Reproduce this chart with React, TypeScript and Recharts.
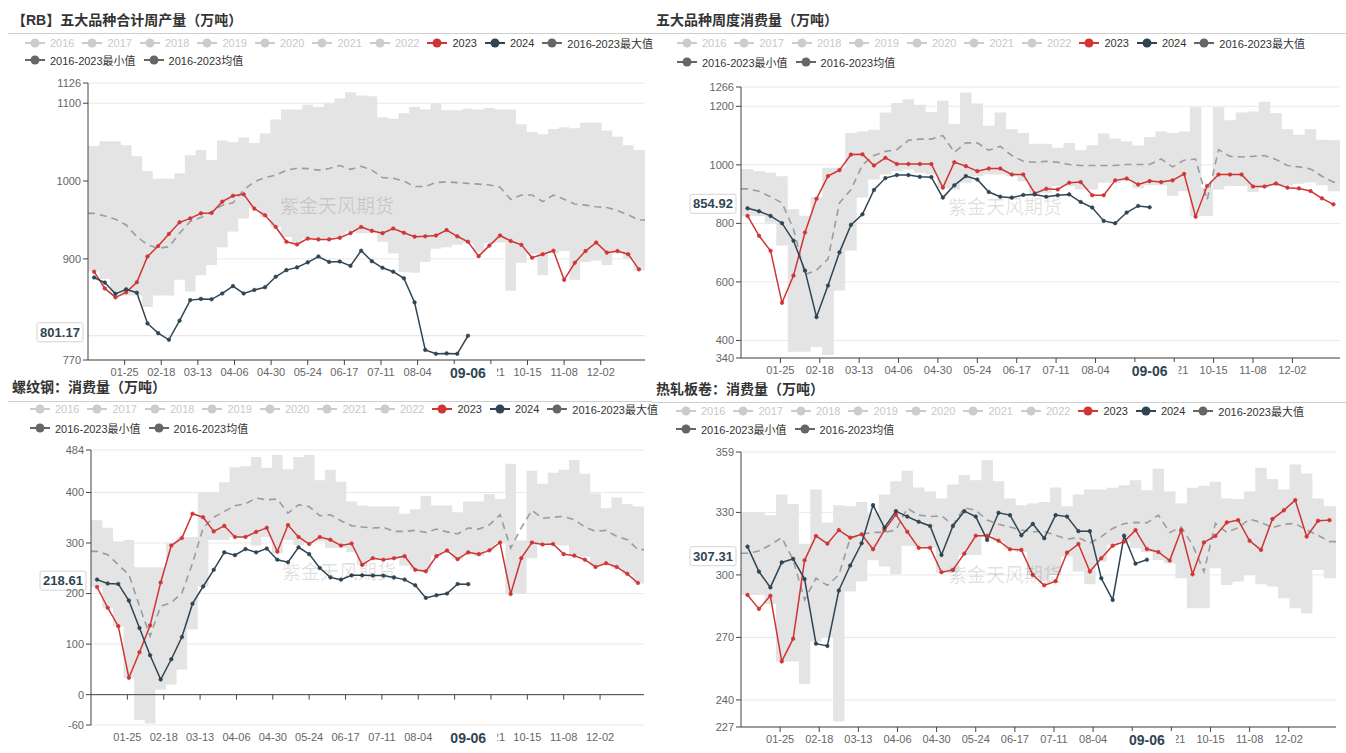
import React from "react";
import {
  ComposedChart,
  Area,
  Line,
  XAxis,
  YAxis,
  CartesianGrid,
  ReferenceLine,
} from "recharts";

// weekly dates (month-day), the last 2024 point is 09-06
const WEEKS = [
  "01-05", "01-12", "01-19", "01-26", "02-02", "02-09", "02-16", "02-23", "03-01", "03-08",
  "03-15", "03-22", "03-29", "04-05", "04-12", "04-19", "04-26", "05-03", "05-10", "05-17",
  "05-24", "05-31", "06-07", "06-14", "06-21", "06-28", "07-05", "07-12", "07-19", "07-26",
  "08-02", "08-09", "08-16", "08-23", "08-30", "09-06", "09-13", "09-20", "09-27", "10-04",
  "10-11", "10-18", "10-25", "11-01", "11-08", "11-15", "11-22", "11-29", "12-06", "12-13",
  "12-20", "12-27",
];
const TICK_DATES = [
  "01-25", "02-18", "03-13", "04-06", "04-30", "05-24", "06-17",
  "07-11", "08-04", "08-28", "09-21", "10-15", "11-08", "12-02",
];
const LATEST = "09-06";

const LEGEND_YEARS = ["2016", "2017", "2018", "2019", "2020", "2021", "2022"];
const LEGEND_STATS = ["2016-2023最大值", "2016-2023最小值", "2016-2023均值"];

// 【RB】五大品种合计周产量
const PROD_2023 = [883.5, 862, 850.5, 857, 870, 903, 916.5, 932, 947, 952, 958.5, 959, 973.5, 981, 983, 964.5, 956, 941, 922, 918.5, 926, 925, 925, 927, 933, 941, 936, 933, 939, 933.5, 928.5, 929, 930, 937, 929, 922, 903.5, 917, 930, 923, 918, 901.5, 906, 910.5, 873, 895, 910, 921, 908, 910, 906, 886.5];
const PROD_2024 = [876, 869.5, 855, 861, 856.5, 817, 804.5, 796, 820.5, 847, 848.5, 848, 855.5, 865, 855.5, 860, 863.5, 877, 885.5, 889, 895.5, 903, 896, 896.5, 891, 910.5, 897, 888.5, 883.5, 875, 844, 783, 778, 778.5, 778, 801.17];
const PROD_MAX = [1045, 1051, 1051, 1046, 1032, 1013, 1003, 1003, 1010, 1033, 1040, 1027, 1052, 1050, 1056, 1049, 1061, 1079, 1092, 1092, 1098, 1095, 1100, 1106, 1114, 1110, 1109, 1082, 1080, 1087, 1095, 1092, 1100, 1091, 1091, 1093, 1092, 1094, 1092, 1092, 1073, 1063, 1060, 1067, 1069, 1068, 1075, 1075, 1065, 1057, 1046, 1040];
const PROD_MIN = [884, 874, 855, 853, 853, 838, 853, 853, 873, 858, 879, 892, 915, 935, 952, 965, 954, 941, 928, 920, 926, 924, 925, 928, 935, 933, 933, 922, 907, 883, 882, 896, 913, 915, 918, 920, 909, 920, 921, 859, 895, 906, 879, 907, 910, 873, 896, 898, 892, 907, 900, 885];
const PROD_MEAN = [958.5, 955, 951, 943.5, 928.5, 918, 913.5, 915.5, 933, 948, 953, 960.5, 969, 972, 988.5, 999, 1004.5, 1007.5, 1014, 1016.5, 1016, 1014, 1016, 1020, 1015, 1019, 1014, 1004.5, 1003.5, 1000, 993, 993, 998, 999, 998, 997, 996, 995, 992, 976.5, 982, 982, 973.5, 982, 976.5, 970.5, 969, 967, 966, 962, 956.5, 950];
const PROD_TICKS = [770, 900, 1000, 1100, 1126];

// 五大品种周度消费量
const CONS_2023 = [825.5, 757.5, 706.5, 528.6, 621.5, 769, 884, 961.5, 982, 1035, 1036, 997.7, 1024, 1003, 1003, 1003, 1003, 922, 1009, 995.5, 978.5, 987.5, 987.5, 967, 967, 902.5, 918, 916, 939, 941, 896, 896, 947, 953.5, 933, 944.5, 941, 947, 969, 823, 927.5, 967, 967, 967, 926, 926, 936.5, 922, 919.5, 910.5, 885.5, 865];
const CONS_2024 = [851.6, 841.4, 825.5, 800.6, 740.5, 638.5, 480, 587.5, 701, 795, 831, 914, 954.7, 965, 965, 959, 958, 888, 930, 961.5, 950, 907, 891, 888, 897, 899, 891, 896, 899, 873, 854, 808.5, 800.6, 837, 859.5, 854.92];
const CONS_MAX = [986, 978, 973, 961, 848, 826, 890, 990, 990, 1109, 1114, 1120, 1179, 1211, 1224, 1205, 1181, 1219, 1140, 1247, 1210, 1134, 1179, 1122, 1109, 1072, 1072, 1058, 1075, 1050, 1067, 1107, 1089, 1080, 1066, 1095, 1114, 1109, 1114, 1197, 922, 1197, 1152, 1179, 1182, 1216, 1177, 1122, 1103, 1122, 1086, 1084];
const CONS_MIN = [825, 825, 802, 724, 361, 361, 378, 350, 571, 707, 888, 950, 967, 978, 984, 973, 967, 920, 916, 939, 961, 967, 967, 961, 944, 900, 905, 928, 928, 916, 916, 939, 939, 944, 920, 930, 930, 894, 910, 825, 825, 916, 928, 928, 907, 922, 928, 930, 935, 940, 930, 910];
const CONS_MEAN = [918, 910, 891, 870, 780, 625, 640, 678, 870, 915, 1000, 1032, 1046, 1052, 1084, 1088, 1088, 1100, 1043, 1075, 1075, 1050, 1063, 1032, 1012, 1009, 1012, 1009, 1001, 998, 998, 998, 998, 1001, 1001, 1001, 1020, 993, 1016, 1020, 880, 1052, 1029, 1027, 1029, 1032, 1018, 998, 993, 986, 961, 941];
const CONS_TICKS = [340, 400, 600, 800, 1000, 1200, 1266];

// 螺纹钢：消费量
const RB_2023 = [213, 172, 135.5, 33.5, 84, 137, 222, 295, 310, 358, 351, 323, 334, 312, 312, 322, 330, 283, 335.5, 312, 298, 312, 306.5, 295, 299, 257, 270, 267, 270, 274, 247, 244, 274, 285, 268, 281.5, 278, 285.5, 301, 199, 270, 301, 297, 298, 278, 275, 267, 252.6, 260, 252.6, 239, 221];
const RB_2024 = [227.6, 220, 219, 186, 132, 78, 30, 70, 114, 180, 214, 247, 281.5, 276, 288, 281.5, 289, 267, 262, 291.5, 278, 250.7, 232, 227.6, 236, 236, 235.5, 235.5, 232, 227.6, 216.4, 191.5, 196.7, 200, 219, 218.61];
const RB_MAX = [345, 330, 303, 306, 252, 252, 252, 300, 312, 312, 400, 401, 420, 450, 452, 470, 449, 474, 446, 470, 474, 424, 445, 421, 382, 374, 372, 372, 372, 358, 367, 393, 374, 374, 361, 382, 382, 397, 387, 457, 305, 443, 417, 439, 445, 464, 437, 398, 369, 390, 377, 372];
const RB_MIN = [213, 172, 135, 33, -50, -57, 10, 20, 50, 129, 214, 306, 306, 312, 312, 295, 312, 280, 306, 296, 300, 303, 290, 290, 282, 257, 268, 270, 270, 255, 247, 244, 274, 283, 268, 278, 274, 285, 300, 199, 199, 270, 297, 296, 295, 276, 273, 255, 258, 250, 238, 220];
const RB_MEAN = [283.5, 277, 257, 237.5, 175, 116, 175, 182, 201, 260, 329.6, 351, 362.5, 373.7, 377.6, 389, 385.5, 387, 359, 375.6, 372, 354, 356, 344, 334, 331.6, 329.6, 331, 323, 323, 325, 321, 327.6, 322, 318, 329.6, 327.6, 336, 356, 290, 330, 364.5, 349, 351, 352.6, 346, 331.6, 323, 325, 313, 306.6, 287];
const RB_TICKS = [-60, 0, 100, 200, 300, 400, 484];

// 热轧板卷：消费量
const HC_2023 = [290.4, 283.7, 290, 258.5, 269.4, 307, 318.7, 315, 321.5, 317.9, 319.5, 312.3, 321.5, 329, 320.7, 313, 313, 301.3, 302.4, 310.2, 318.8, 318.8, 316.4, 312.3, 312, 300, 295, 297, 310.7, 314.8, 301.6, 308, 314, 316, 321.5, 312.4, 311, 306.9, 321.5, 300.3, 315.6, 318.7, 325.2, 326.3, 316.4, 312, 326.8, 331, 335.9, 318.4, 326, 326.3];
const HC_2024 = [313.6, 301.6, 294, 306, 307.7, 298, 267, 265.9, 292.5, 304.5, 315.2, 333.5, 322.7, 330.6, 328, 325.5, 323.5, 309.6, 323.5, 330.6, 328, 316.8, 329.8, 328.7, 319, 324.5, 317.6, 328.7, 328, 321, 321, 298.4, 288, 318.8, 305.4, 307.31];
const HC_MAX = [330, 330, 328.7, 338.6, 334, 315, 341, 325, 333.5, 333, 335, 329.5, 338.6, 345, 350, 342, 340, 336.7, 343.4, 348, 345.5, 355, 345, 336.7, 333.5, 334.3, 335, 342, 333, 338.6, 341, 341, 341.8, 343, 345.5, 340.7, 351, 340, 334.3, 341.8, 342.8, 344.7, 336.7, 336.4, 340, 351.4, 346, 341, 353, 348.7, 336.7, 333];
const HC_MIN = [290.4, 290.4, 286, 258.5, 258.5, 247.7, 268, 270, 229.8, 292, 297, 307, 304, 300.3, 314, 313.6, 313, 300.8, 301, 309.6, 309.6, 319, 316, 312.3, 311, 300, 296.8, 300, 308.8, 301.6, 295.5, 306.4, 314.4, 316, 312.8, 311, 307.2, 305.6, 298.4, 284, 284, 303.2, 295.2, 296.8, 300, 295.5, 294.4, 288.8, 284, 281.6, 302.4, 298.4];
const HC_MEAN = [310.4, 311.5, 314.4, 317.9, 307.2, 288, 298.4, 295, 300, 317.6, 319.5, 320.4, 320.4, 321.5, 332, 328.7, 328, 328.4, 324, 332.2, 331, 326.3, 324.3, 323, 321.5, 320.7, 320.9, 319, 317.2, 317.9, 315.2, 318.4, 322.3, 324.6, 325.2, 325, 328.7, 320.4, 323, 314.4, 301.6, 324.7, 320.4, 322.7, 326.8, 325.2, 322.7, 324.3, 324.7, 321.5, 319, 316];
const HC_TICKS = [227, 240, 270, 300, 330, 359];

const RED = "#cf3535";
const NAVY = "#2f4554";
const FONT = '"Liberation Sans", "Noto Sans CJK SC", sans-serif';

const MONTH_LEN = [31, 29, 31, 30, 31, 30, 31, 31, 30, 31, 30, 31];
function dayOfYear(md: string) {
  const [m, d] = md.split("-").map(Number);
  let n = 0;
  for (let i = 0; i < m - 1; i++) n += MONTH_LEN[i];
  return n + d - 1;
}
function dateLabel(day: number) {
  let m = 0;
  let d = day;
  while (d >= MONTH_LEN[m]) {
    d -= MONTH_LEN[m];
    m++;
  }
  return `${String(m + 1).padStart(2, "0")}-${String(d + 1).padStart(2, "0")}`;
}

const LATEST_DAY = dayOfYear(LATEST);
// the latest date goes last so its label is painted over its neighbours
const TICK_DAYS = [...TICK_DATES.map(dayOfYear), LATEST_DAY];

function buildRows(s: any) {
  const rows: any[] = WEEKS.map((w, i) => ({
    day: dayOfYear(w),
    y2023: s.y2023[i],
    y2024: i < s.y2024.length ? s.y2024[i] : null,
    mean: s.mean[i],
    band: [s.min[i], s.max[i]],
  }));
  const n = WEEKS.length - 1;
  rows.unshift({ day: 0, band: [s.min[0], s.max[0]], mean: s.mean[0] });
  rows.push({ day: 365, band: [s.min[n], s.max[n]], mean: s.mean[n] });
  return rows;
}

const PANELS = [
  {
    title: "【RB】五大品种合计周产量（万吨）",
    titleX: 12, titleY: 20, lineY: 33, lineX1: 8, lineX2: 652,
    legX: 25, legY1: 43, legY2: 60, wmX: 280, wmY: 205,
    left: 0, top: 70, width: 660, height: 320, mt: 13, mr: 15, xh: 30,
    series: { y2023: PROD_2023, y2024: PROD_2024, max: PROD_MAX, min: PROD_MIN, mean: PROD_MEAN },
    ticks: PROD_TICKS, cur: 801.17, curLine: true,
  },
  {
    title: "五大品种周度消费量（万吨）",
    titleX: 656, titleY: 20, lineY: 33, lineX1: 652, lineX2: 1346,
    legX: 677, legY1: 43, legY2: 62, wmX: 948, wmY: 206,
    left: 653, top: 70, width: 693, height: 318, mt: 17, mr: 6, xh: 30,
    series: { y2023: CONS_2023, y2024: CONS_2024, max: CONS_MAX, min: CONS_MIN, mean: CONS_MEAN },
    ticks: CONS_TICKS, cur: 854.92, curLine: false,
  },
  {
    title: "螺纹钢：消费量（万吨）",
    titleX: 12, titleY: 387, lineY: 401, lineX1: 8, lineX2: 652,
    legX: 30, legY1: 409, legY2: 428, wmX: 282, wmY: 571,
    left: 3, top: 430, width: 656, height: 321, mt: 20, mr: 15, xh: 26,
    series: { y2023: RB_2023, y2024: RB_2024, max: RB_MAX, min: RB_MIN, mean: RB_MEAN },
    ticks: RB_TICKS, cur: 218.61, curLine: false,
  },
  {
    title: "热轧板卷：消费量（万吨）",
    titleX: 656, titleY: 389, lineY: 402, lineX1: 652, lineX2: 1346,
    legX: 676, legY1: 411, legY2: 429, wmX: 948, wmY: 574,
    left: 653, top: 430, width: 693, height: 321, mt: 22, mr: 10, xh: 24,
    series: { y2023: HC_2023, y2024: HC_2024, max: HC_MAX, min: HC_MIN, mean: HC_MEAN },
    ticks: HC_TICKS, cur: 307.31, curLine: false,
  },
];

function LegendIcon({ color }: { color: string }) {
  return (
    <svg width={20} height={10} style={{ display: "block" }}>
      <line x1={0} y1={5} x2={20} y2={5} stroke={color} strokeWidth={2} />
      <circle cx={10} cy={5} r={4.5} fill={color} />
    </svg>
  );
}

function LegendItem({ name, color, text }: { name: string; color: string; text: string }) {
  return (
    <div style={{ display: "flex", alignItems: "center", marginRight: 8 }}>
      <LegendIcon color={color} />
      <span style={{ marginLeft: 5, color: text, fontSize: 11, whiteSpace: "nowrap" }}>{name}</span>
    </div>
  );
}

function Legend({ x, y1, y2 }: { x: number; y1: number; y2: number }) {
  const row1 = [
    ...LEGEND_YEARS.map((y) => ({ name: y, color: "#cccccc", text: "#c8c8c8" })),
    { name: "2023", color: RED, text: "#333" },
    { name: "2024", color: NAVY, text: "#333" },
    { name: LEGEND_STATS[0], color: "#666", text: "#333" },
  ];
  const row2 = [
    { name: LEGEND_STATS[1], color: "#666", text: "#333" },
    { name: LEGEND_STATS[2], color: "#666", text: "#333" },
  ];
  const rowStyle = (y: number): React.CSSProperties => ({
    position: "absolute", left: x, top: y - 7, height: 14, display: "flex", alignItems: "center",
  });
  return (
    <>
      <div style={rowStyle(y1)}>
        {row1.map((it) => <LegendItem key={it.name} {...it} />)}
      </div>
      <div style={rowStyle(y2)}>
        {row2.map((it) => <LegendItem key={it.name} {...it} />)}
      </div>
    </>
  );
}

const TICK_SIZE = 5;
const TICK_MARGIN = 3;

function XTick(props: any) {
  const { x, y, payload, zeroY } = props;
  if (payload.value === LATEST_DAY) {
    return (
      <g>
        <rect x={x - 29} y={y - 4} width={58} height={18} fill="#fff" />
        <text x={x} y={y + 10} textAnchor="middle" fontSize={14} fontWeight="bold" fill={NAVY}>
          {LATEST}
        </text>
      </g>
    );
  }
  const axisY = zeroY != null ? zeroY : y - TICK_SIZE - TICK_MARGIN;
  return (
    <g>
      <line x1={x} x2={x} y1={axisY} y2={axisY + TICK_SIZE} stroke="#444" />
      <text x={x} y={y} dy="0.71em" textAnchor="middle" fontSize={11} fill="#666">
        {dateLabel(payload.value)}
      </text>
    </g>
  );
}

const yTag = (text: string) => (props: any) => {
  const { x, y } = props.viewBox;
  return (
    <g>
      <rect x={x - 51} y={y - 13} width={46} height={19} rx={2} fill="#fff" stroke="#d4d4d4" />
      <text x={x - 28} y={y + 1} textAnchor="middle" fontSize={13} fontWeight="bold" fill={NAVY}>
        {text}
      </text>
    </g>
  );
};

function Panel({ p }: { p: any }) {
  const rows = buildRows(p.series);
  const yMin = p.ticks[0];
  const yMax = p.ticks[p.ticks.length - 1];
  const plotH = p.height - p.mt - p.xh;
  const zeroY = yMin < 0 ? p.mt + (yMax / (yMax - yMin)) * plotH : null;
  return (
    <>
      <div
        style={{
          position: "absolute", left: p.titleX, top: p.titleY - 9, fontSize: 14,
          fontWeight: "bold", color: "#333", whiteSpace: "nowrap", lineHeight: "18px",
        }}
      >
        {p.title}
      </div>
      <div
        style={{
          position: "absolute", left: p.lineX1, top: p.lineY, width: p.lineX2 - p.lineX1,
          borderTop: "1.5px solid #cfcfcf",
        }}
      />
      <Legend x={p.legX} y1={p.legY1} y2={p.legY2} />
      <div style={{ position: "absolute", left: p.left, top: p.top }}>
        <ComposedChart
          width={p.width}
          height={p.height}
          data={rows}
          margin={{ top: p.mt, right: p.mr, bottom: 0, left: 0 }}
        >
          <CartesianGrid vertical={false} stroke="#e9e9e9" />
          <XAxis
            dataKey="day"
            type="number"
            domain={[0, 365]}
            ticks={TICK_DAYS}
            interval={0}
            height={p.xh}
            allowDataOverflow
            axisLine={zeroY == null ? { stroke: "#444" } : false}
            tickLine={false}
            tickSize={TICK_SIZE}
            tickMargin={TICK_MARGIN}
            tick={<XTick zeroY={zeroY} />}
          />
          <YAxis
            type="number"
            domain={[yMin, yMax]}
            ticks={p.ticks}
            interval={0}
            width={88}
            allowDataOverflow
            tick={{ fontSize: 11, fill: "#666" }}
            axisLine={{ stroke: "#444" }}
            tickLine={{ stroke: "#444" }}
            tickSize={5}
          />
          <Area
            dataKey="band"
            type="step"
            stroke="none"
            fill="#e4e4e4"
            fillOpacity={1}
            connectNulls
            isAnimationActive={false}
            activeDot={false}
          />
          {zeroY != null && <ReferenceLine y={0} stroke="#444" />}
          <ReferenceLine y={p.cur} stroke={p.curLine ? "#e2e2e2" : "none"} label={yTag(p.cur.toFixed(2))} />
          <Line
            dataKey="mean"
            type="linear"
            stroke="#9c9c9c"
            strokeWidth={1.6}
            strokeDasharray="7 5"
            dot={false}
            activeDot={false}
            connectNulls
            isAnimationActive={false}
          />
          <Line
            dataKey="y2023"
            type="linear"
            stroke={RED}
            strokeWidth={1.5}
            dot={{ r: 1.8, fill: RED, stroke: RED, strokeWidth: 0.6 }}
            activeDot={false}
            connectNulls
            isAnimationActive={false}
          />
          <Line
            dataKey="y2024"
            type="linear"
            stroke={NAVY}
            strokeWidth={1.5}
            dot={{ r: 1.8, fill: NAVY, stroke: NAVY, strokeWidth: 0.6 }}
            activeDot={false}
            connectNulls
            isAnimationActive={false}
          />
        </ComposedChart>
      </div>
      <div
        style={{
          position: "absolute", left: p.wmX, top: p.wmY - 12, fontSize: 19, lineHeight: "24px",
          color: "rgba(0,0,0,0.13)", pointerEvents: "none", whiteSpace: "nowrap",
          fontFamily: '"Noto Sans CJK SC", sans-serif',
        }}
      >
        紫金天风期货
      </div>
    </>
  );
}

export default function App() {
  return (
    <div
      style={{
        position: "absolute", left: 0, top: 0, width: 1346, height: 753,
        background: "#fff", fontFamily: FONT, overflow: "hidden",
      }}
    >
      {PANELS.map((p) => (
        <Panel key={p.title} p={p} />
      ))}
    </div>
  );
}
